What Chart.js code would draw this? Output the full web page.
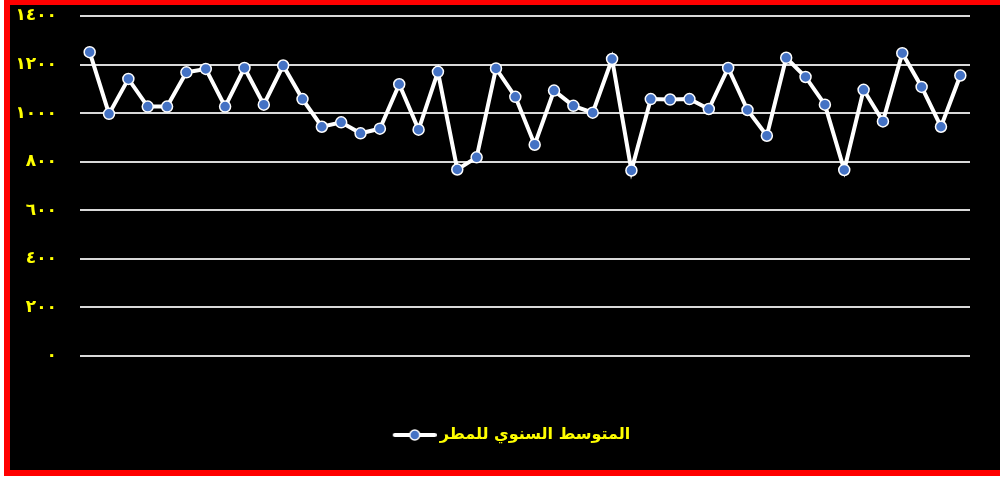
<!DOCTYPE html>
<html lang="ar">
<head>
<meta charset="utf-8">
<script src="https://cdn.jsdelivr.net/npm/chart.js@4.4.1/dist/chart.umd.min.js"></script>
<style>
  html, body { margin: 0; padding: 0; background: #fff; overflow: hidden; }
  #frame {
    position: absolute; left: 4px; top: 0;
    width: 990px; height: 465px;
    border-top: 5px solid #ff0000;
    border-left: 6px solid #ff0000;
    border-bottom: 6px solid #ff0000;
    background: #000;
  }
  canvas { display: block; background: #000; }
</style>
</head>
<body>
<div id="frame"><canvas id="rainChart" width="990" height="465"></canvas></div>
<script>
// السنوات (غير معروضة على المحور)
const years = [];
for (let y = 1970; y <= 2015; y++) years.push(String(y));

// المتوسط السنوي للمطر (مم)
const rainfall = [
  1251, 997, 1141, 1027, 1027, 1168, 1182, 1027, 1186, 1035,
  1196, 1058, 944, 962, 917, 936, 1119, 932, 1170, 768,
  818, 1184, 1067, 870, 1093, 1030, 1002, 1223, 764, 1058,
  1056, 1058, 1017, 1186, 1013, 907, 1228, 1149, 1035, 766,
  1096, 966, 1247, 1108, 944, 1155
];

const seriesName = "المتوسط السنوي للمطر";
const yTicks = [0, 200, 400, 600, 800, 1000, 1200, 1400];

const arabicDigits = ["٠", "١", "٢", "٣", "٤", "٥", "٦", "٧", "٨", "٩"];
function toArabic(n) {
  return String(n).replace(/[0-9]/g, d => arabicDigits[+d]);
}

// رمز المفتاح: خط أبيض مع دائرة زرقاء في الوسط
const legendIcon = document.createElement("canvas");
legendIcon.width = 54;
legendIcon.height = 14;
(function () {
  const c = legendIcon.getContext("2d");
  c.strokeStyle = "#ffffff";
  c.lineWidth = 4;
  c.lineCap = "round";
  c.beginPath();
  c.moveTo(12, 7);
  c.lineTo(52, 7);
  c.stroke();
  c.beginPath();
  c.arc(32, 7, 5, 0, Math.PI * 2);
  c.fillStyle = "#4472C4";
  c.fill();
  c.lineWidth = 1.5;
  c.stroke();
})();

const chart = new Chart(document.getElementById("rainChart"), {
  type: "line",
  data: {
    labels: years,
    datasets: [{
      label: seriesName,
      data: rainfall,
      borderColor: "#ffffff",
      borderWidth: 4,
      pointBackgroundColor: "#4472C4",
      pointBorderColor: "#ffffff",
      pointBorderWidth: 1.5,
      pointRadius: 5.5,
      pointStyle: "circle",
      tension: 0,
      fill: false
    }]
  },
  options: {
    responsive: false,
    animation: false,
    layout: { padding: { top: 11, right: 0, bottom: 17, left: 8 } },
    plugins: {
      tooltip: { enabled: false },
      legend: {
        position: "bottom",
        labels: {
          color: "#ffff00",
          font: { family: "'DejaVu Sans', sans-serif", size: 16, weight: "bold" },
          usePointStyle: true,
          pointStyleWidth: 44,
          padding: 10,
          generateLabels: function (ch) {
            return [{
              text: seriesName,
              fontColor: "#ffff00",
              pointStyle: legendIcon,
              datasetIndex: 0,
              hidden: false,
              lineWidth: 0
            }];
          }
        }
      }
    },
    scales: {
      x: {
        offset: true,
        grid: { display: false },
        border: { display: false },
        ticks: { display: false },
        afterFit: function (scale) { scale.height = 61; }
      },
      y: {
        min: 0,
        max: 1400,
        afterBuildTicks: function (scale) {
          scale.ticks = yTicks.map(v => ({ value: v }));
        },
        afterFit: function (scale) { scale.width = 62; },
        grid: {
          color: "#d9d9d9",
          lineWidth: 2,
          drawTicks: true,
          tickLength: 23,
          tickColor: "rgba(0,0,0,0)"
        },
        border: { display: false },
        ticks: {
          color: "#ffff00",
          padding: 0,
          font: { family: "'DejaVu Sans', sans-serif", size: 17, weight: "bold" },
          callback: function (value) { return toArabic(value); }
        }
      },
      // فراغ على يمين منطقة الرسم
      yRight: {
        position: "right",
        display: true,
        grid: { display: false },
        border: { display: false },
        ticks: { display: false },
        afterFit: function (scale) { scale.width = 30; }
      }
    }
  }
});
</script>
</body>
</html>
